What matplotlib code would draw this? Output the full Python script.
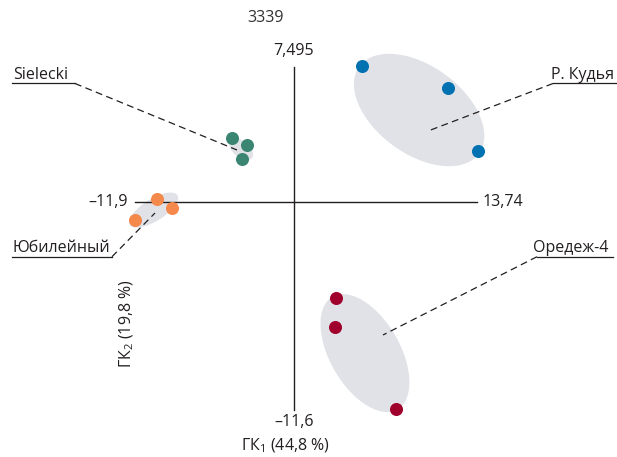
import numpy as np
import matplotlib
matplotlib.use("Agg")
import matplotlib.pyplot as plt

plt.rcParams["font.family"] = ["Open Sans", "DejaVu Sans"]
plt.rcParams["mathtext.fontset"] = "custom"
plt.rcParams["mathtext.rm"] = "Open Sans"

# --- data -------------------------------------------------------------
TITLE = "3339"
X_MIN, X_MAX = -11.9, 13.74
Y_MIN, Y_MAX = -11.6, 7.495
X_TICKS = ["–11,9", "13,74"]
Y_TICKS = ["7,495", "–11,6"]
X_LABEL = "ГК$_1$ (44,8 %)"
Y_LABEL = "ГК$_2$ (19,8 %)"

GROUPS = ["Sielecki", "Юбилейный", "Р. Кудья", "Оредеж-4"]
COLORS = ["#3b8573", "#f5884b", "#0071b1", "#a0002c"]
PC1 = [[-4.60, -3.52, -3.85], [-10.22, -9.15, -11.92],
       [5.10, 11.60, 13.84], [3.15, 3.12, 7.67]]
PC2 = [[3.52, 3.13, 2.37], [0.14, -0.34, -1.04],
       [7.55, 6.31, 2.83], [-5.38, -6.97, -11.55]]

# group ellipses: centre (data), semi-axes (px), angle (deg)
ELL_CX = [-3.94, -10.50, 9.40, 5.34]
ELL_CY = [2.92, -0.47, 5.10, -8.43]
ELL_A = [14, 28, 74, 65]
ELL_B = [8, 11, 44, 35]
ELL_ANG = [-40, 32, -36, -60]

# --- layout (pixels of a 617x457 canvas) ------------------------------
W, H = 617, 457
SX = 342 / (X_MAX - X_MIN)      # px per unit, x
SY = 343 / (Y_MAX - Y_MIN)      # px per unit, y
OX, OY = 135 + (-X_MIN) * SX, 410 - (-Y_MIN) * SY


def to_data(px, py):
    return (px - OX) / SX, (OY - py) / SY


LABEL_X = [13, 13, 614, 608]
LABEL_HA = ["left", "left", "right", "right"]
LABEL_BASE = [79, 252, 79, 252]
UNDERLINE = [(12, 75, 83.5), (12, 112, 256.7), (553, 616, 83.5), (537, 613, 256.7)]
LEAD_FROM = [75, 112, 553, 537]
LEAD_TO = [(237, 150), (155, 213), (428, 131), (383, 335)]

INK = "#231f20"
FS = 11.5

fig = plt.figure(figsize=(W / 100, H / 100), dpi=100)
ax = fig.add_axes([0, 0, 1, 1])
ax.set_xlim(-OX / SX, (W - OX) / SX)
ax.set_ylim(-(H - OY) / SY, OY / SY)
ax.axis("off")

# ellipses
t = np.linspace(0, 2 * np.pi, 200)
for cx, cy, a, b, ang in zip(ELL_CX, ELL_CY, ELL_A, ELL_B, ELL_ANG):
    th = np.deg2rad(ang)
    dx = a * np.cos(t) * np.cos(th) - b * np.sin(t) * np.sin(th)
    dy = a * np.cos(t) * np.sin(th) + b * np.sin(t) * np.cos(th)
    ax.fill(cx + dx / SX, cy + dy / SY, color="#e1e2e7", lw=0, zorder=1)

# axes cross
ax.plot([X_MIN, X_MAX], [0, 0], color=INK, lw=1.0, zorder=2)
ax.plot([0, 0], [Y_MIN, Y_MAX], color=INK, lw=1.0, zorder=2)

# leader lines + labels
for i, name in enumerate(GROUPS):
    x0, x1, uy = UNDERLINE[i]
    p0 = to_data(x0, uy)
    p1 = to_data(x1, uy)
    ax.plot([p0[0], p1[0]], [p0[1], p1[1]], color=INK, lw=0.9, zorder=3)
    s = to_data(LEAD_FROM[i], uy)
    e = to_data(*LEAD_TO[i])
    ax.plot([s[0], e[0]], [s[1], e[1]], color=INK, lw=0.9,
            ls=(0, (5.5, 3.5)), zorder=3)
    tx, ty = to_data(LABEL_X[i], LABEL_BASE[i])
    ax.text(tx, ty, name, fontsize=FS, color=INK, ha=LABEL_HA[i],
            va="baseline")

# points
for xs, ys, col in zip(PC1, PC2, COLORS):
    ax.scatter(xs, ys, s=88, color=col, lw=0, zorder=4)

# axis end labels
ax.annotate(Y_TICKS[0], (0, Y_MAX), xytext=(0, 6), textcoords="offset points",
            ha="center", va="bottom", fontsize=FS, color=INK)
ax.annotate(Y_TICKS[1], (0, Y_MIN), xytext=(0, -3), textcoords="offset points",
            ha="center", va="top", fontsize=FS, color=INK)
ax.annotate(X_TICKS[0], (X_MIN, 0), xytext=(-5, 0), textcoords="offset points",
            ha="right", va="center", fontsize=FS, color=INK)
ax.annotate(X_TICKS[1], (X_MAX, 0), xytext=(4, 0), textcoords="offset points",
            ha="left", va="center", fontsize=FS, color=INK)

# titles
ax.text(*to_data(266, 18), TITLE, fontsize=11.5, color="#333333",
        ha="center", va="center")
ax.text(*to_data(286, 446), X_LABEL, fontsize=FS, color=INK,
        ha="center", va="center")
ax.text(*to_data(127, 323), Y_LABEL, fontsize=FS, color=INK,
        ha="center", va="center", rotation=90)

fig.savefig("out.png", dpi=100)
